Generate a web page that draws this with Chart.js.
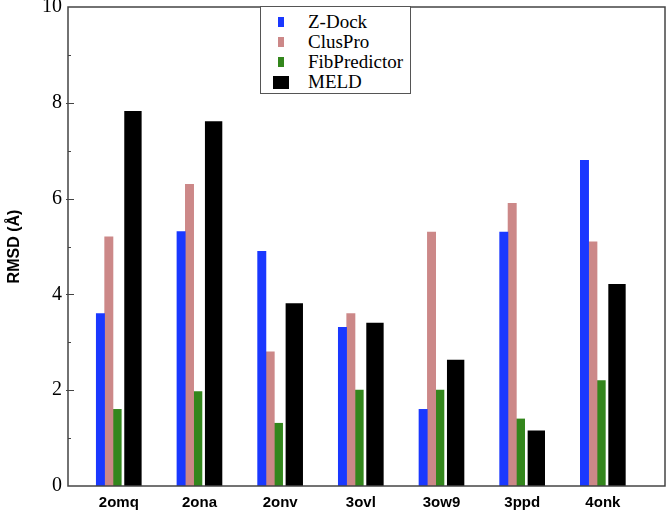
<!DOCTYPE html>
<html>
<head>
<meta charset="utf-8">
<script src="https://cdn.jsdelivr.net/npm/chart.js@4.4.0/dist/chart.umd.min.js"></script>
<style>
  html, body { margin: 0; padding: 0; background: #fff; }
  #wrap { position: relative; width: 666px; height: 513px; }
  #legend {
    position: absolute; left: 260px; top: 6px; width: 151px; height: 88px;
    box-sizing: border-box; border: 1px solid #555; background: #fff;
    padding-top: 5px; font-family: "Liberation Serif", "Times New Roman", serif;
    font-size: 19px; color: #000;
  }
  .row { position: relative; height: 20px; line-height: 20px; }
  .swatch { position: absolute; }
  .label { position: absolute; left: 47px; top: 0; white-space: nowrap; }
</style>
</head>
<body>
<div id="wrap">
  <canvas id="rmsdChart" width="666" height="513"></canvas>
  <div id="legend"></div>
</div>
<script>
const categories = ["2omq", "2ona", "2onv", "3ovl", "3ow9", "3ppd", "4onk"];
const zdock = [3.6, 5.31, 4.9, 3.31, 1.6, 5.3, 6.8];
const cluspro = [5.2, 6.3, 2.8, 3.6, 5.3, 5.9, 5.1];
const fibpredictor = [1.6, 1.97, 1.31, 2.0, 2.0, 1.4, 2.2];
const meld = [7.82, 7.61, 3.81, 3.4, 2.63, 1.15, 4.21];
const yTicks = [0, 2, 4, 6, 8, 10];

// per-series look: colour, bar thickness, shift inside the group (category units)
const series = [
  { name: "Z-Dock", values: zdock, color: "#1a38ff", width: 8.3, shift: -0.228, sw: [6, 10] },
  { name: "ClusPro", values: cluspro, color: "#cc8888", width: 8.3, shift: -0.124, sw: [6, 10] },
  { name: "FibPredictor", values: fibpredictor, color: "#33861c", width: 8.3, shift: -0.021, sw: [6, 10] },
  { name: "MELD", values: meld, color: "#000000", width: 16.7, shift: 0.175, sw: [16, 13] }
];

const frame = {
  id: "frame",
  afterDatasetsDraw(chart) {
    const { ctx, chartArea: a, scales: { y } } = chart;
    ctx.save();
    ctx.strokeStyle = "#444";
    ctx.lineWidth = 1.5;
    ctx.strokeRect(a.left, a.top, a.right - a.left, a.bottom - a.top);
    ctx.lineWidth = 1;
    for (let v = 1; v < 10; v++) {
      const py = Math.round(y.getPixelForValue(v)) + 0.5;
      const major = yTicks.includes(v);
      ctx.beginPath();
      ctx.moveTo(a.left - (major ? 2 : 0), py);
      ctx.lineTo(a.left + (major ? 6 : 3), py);
      ctx.stroke();
    }
    ctx.restore();
  }
};

const datasets = series.map(s => ({
  label: s.name,
  data: s.values.map((v, i) => ({ x: i + s.shift, y: v })),
  backgroundColor: s.color,
  borderWidth: 0,
  barThickness: s.width,
  grouped: false
}));

new Chart(document.getElementById("rmsdChart"), {
  type: "bar",
  data: { datasets },
  options: {
    responsive: false,
    animation: false,
    layout: { padding: { top: 7, right: 1, left: 0, bottom: 0 } },
    plugins: { legend: { display: false }, tooltip: { enabled: false } },
    scales: {
      x: {
        type: "linear",
        offset: false,
        min: -0.63,
        max: 6.77,
        grid: { display: false, drawTicks: false, offset: false },
        border: { display: false },
        afterBuildTicks: scale => { scale.ticks = categories.map((c, i) => ({ value: i })); },
        afterFit: scale => { scale.height = 27; scale.paddingLeft = 0; scale.paddingRight = 0; },
        ticks: {
          autoSkip: false, maxRotation: 0, padding: 8, color: "#000",
          font: { family: "Liberation Sans", size: 15, weight: "bold" },
          callback: v => categories[v] ?? ""
        }
      },
      y: {
        min: 0,
        max: 10,
        grid: { display: false, drawTicks: false },
        border: { display: false },
        afterFit: scale => { scale.width = 68; scale.paddingTop = 0; scale.paddingBottom = 0; },
        ticks: {
          stepSize: 1, padding: 6, color: "#000",
          font: { family: "Liberation Serif", size: 20 },
          callback: v => yTicks.includes(v) ? v : ""
        },
        title: {
          display: true, text: "RMSD (Å)", color: "#000",
          font: { family: "Liberation Sans", size: 16, weight: "bold" },
          padding: { top: 5, bottom: 0 }
        }
      }
    }
  },
  plugins: [frame]
});

const legend = document.getElementById("legend");
series.forEach(s => {
  const row = document.createElement("div");
  row.className = "row";
  const [w, h] = s.sw;
  row.innerHTML = `
    <span class="swatch" style="left:${20 - w / 2}px;top:${10 - h / 2}px;width:${w}px;height:${h}px;background:${s.color}"></span>
    <span class="label">${s.name}</span>
  `;
  legend.appendChild(row);
});
</script>
</body>
</html>
